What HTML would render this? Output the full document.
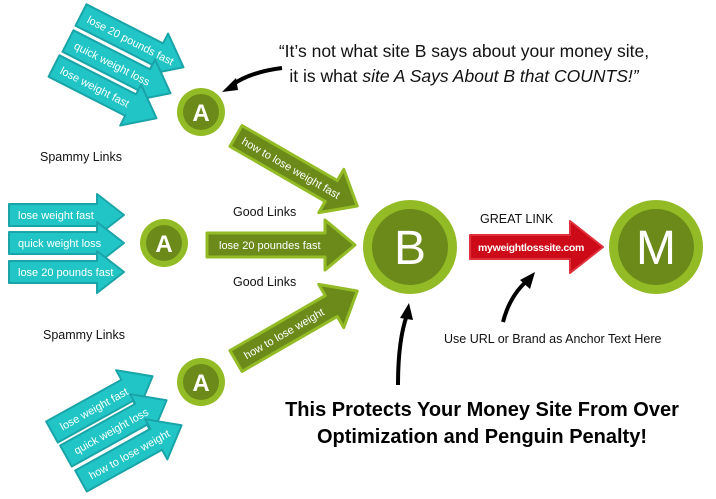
<!DOCTYPE html>
<html><head><meta charset="utf-8"><style>
body{margin:0;background:#fff;}
svg{display:block;font-family:"Liberation Sans",sans-serif;}
.t{fill:#22c5c6;stroke:#19a4a8;stroke-width:2;stroke-linejoin:round;}
.g{fill:#6b8a1a;stroke:#93bb25;stroke-width:3;stroke-linejoin:round;}
.at{fill:#fff;font-size:11px;}
.lbl{font-size:12.5px;fill:#111;}
</style></head><body>
<svg width="716" height="499" viewBox="0 0 716 499">
<!-- top teal -->
<g transform="translate(81,15) rotate(27)"><path class="t" d="M0,-12 H86 V-23 L115,0 L86,23 V12 H0 Z"/><text class="at" x="8" y="4">lose 20 pounds fast</text></g>
<g transform="translate(68,41) rotate(27)"><path class="t" d="M0,-12 H86 V-23 L115,0 L86,23 V12 H0 Z"/><text class="at" x="8" y="4">quick weight loss</text></g>
<g transform="translate(54,66) rotate(27)"><path class="t" d="M0,-12 H86 V-23 L115,0 L86,23 V12 H0 Z"/><text class="at" x="8" y="4">lose weight fast</text></g>
<!-- middle teal -->
<g transform="translate(9,215)"><path class="t" d="M0,-11 H88 V-21 L115,0 L88,21 V11 H0 Z"/><text class="at" x="9" y="4">lose weight fast</text></g>
<g transform="translate(9,243)"><path class="t" d="M0,-11 H88 V-21 L115,0 L88,21 V11 H0 Z"/><text class="at" x="9" y="4">quick weight loss</text></g>
<g transform="translate(9,272)"><path class="t" d="M0,-11 H88 V-21 L115,0 L88,21 V11 H0 Z"/><text class="at" x="9" y="4">lose 20 pounds fast</text></g>
<!-- bottom teal -->
<g transform="translate(52,432) rotate(-29)"><path class="t" d="M0,-12 H86 V-23 L115,0 L86,23 V12 H0 Z"/><text class="at" x="10" y="4">lose weight fast</text></g>
<g transform="translate(66,456) rotate(-29)"><path class="t" d="M0,-12 H86 V-23 L115,0 L86,23 V12 H0 Z"/><text class="at" x="10" y="4">quick weight loss</text></g>
<g transform="translate(81,481) rotate(-29)"><path class="t" d="M0,-12 H86 V-23 L115,0 L86,23 V12 H0 Z"/><text class="at" x="10" y="4">how to lose weight</text></g>
<!-- green arrows -->
<g transform="translate(236,136) rotate(30)"><path class="g" d="M0,-12 H110 V-25 L140,0 L110,25 V12 H0 Z"/><text class="at" x="8" y="4">how to lose weight fast</text></g>
<g transform="translate(207,245)"><path class="g" d="M0,-12 H118 V-25 L148,0 L118,25 V12 H0 Z"/><text class="at" x="12" y="4">lose 20 poundes fast</text></g>
<g transform="translate(236,361) rotate(-30)"><path class="g" d="M0,-12 H110 V-25 L140,0 L110,25 V12 H0 Z"/><text class="at" x="10" y="4">how to lose weight</text></g>
<!-- red -->
<g transform="translate(470,247)"><path d="M0,-12 H100 V-26 L133,0 L100,26 V12 H0 Z" fill="#cc0a18" stroke="#e0303b" stroke-width="2" stroke-linejoin="round"/><text x="8" y="4" fill="#fff" font-size="10.5" font-weight="bold" letter-spacing="-0.3">myweightlosssite.com</text></g>
<!-- circles -->
<g font-size="24" fill="#fff" text-anchor="middle">
<circle cx="201" cy="112" r="24" fill="#93bb25"/><circle cx="201" cy="112" r="18" fill="#6b8a1a"/><text x="201" y="121" font-weight="bold">A</text>
<circle cx="164" cy="243" r="24" fill="#93bb25"/><circle cx="164" cy="243" r="18" fill="#6b8a1a"/><text x="164" y="252" font-weight="bold">A</text>
<circle cx="201" cy="382" r="24" fill="#93bb25"/><circle cx="201" cy="382" r="18" fill="#6b8a1a"/><text x="201" y="391" font-weight="bold">A</text>
<circle cx="410" cy="247" r="47" fill="#93bb25"/><circle cx="410" cy="247" r="38" fill="#6b8a1a"/><text x="410" y="264" font-size="48">B</text>
<circle cx="656" cy="247" r="47" fill="#93bb25"/><circle cx="656" cy="247" r="38" fill="#6b8a1a"/><text x="656" y="264" font-size="48">M</text>
</g>
<!-- labels -->
<text class="lbl" x="40" y="161">Spammy Links</text>
<text class="lbl" x="43" y="339">Spammy Links</text>
<text class="lbl" x="233" y="216">Good Links</text>
<text class="lbl" x="233" y="286">Good Links</text>
<text class="lbl" x="480" y="223">GREAT LINK</text>
<text class="lbl" x="444" y="343">Use URL or Brand as Anchor Text Here</text>
<text x="464" y="57" text-anchor="middle" font-size="17.5" fill="#111">“It’s not what site B says about your money site,</text>
<text x="464" y="82" text-anchor="middle" font-size="17.5" fill="#111">it is what <tspan font-style="italic">site A Says About B that COUNTS!”</tspan></text>
<text x="482" y="416" text-anchor="middle" font-size="20" font-weight="bold" fill="#000">This Protects Your Money Site From Over</text>
<text x="482" y="443" text-anchor="middle" font-size="20" font-weight="bold" fill="#000">Optimization and Penguin Penalty!</text>
<!-- curved black arrows -->
<path d="M282,68 Q250,72 232,85" stroke="#000" stroke-width="4" fill="none"/>
<path d="M222,92 L236,78 L238,90 Z" fill="#000"/>
<path d="M398,385 Q398,340 407,315" stroke="#000" stroke-width="4" fill="none"/>
<path d="M409,303 L400,318 L413,320 Z" fill="#000"/>
<path d="M503,322 Q510,295 528,280" stroke="#000" stroke-width="4" fill="none"/>
<path d="M535,272 L520,280 L530,289 Z" fill="#000"/>
</svg>
</body></html>
